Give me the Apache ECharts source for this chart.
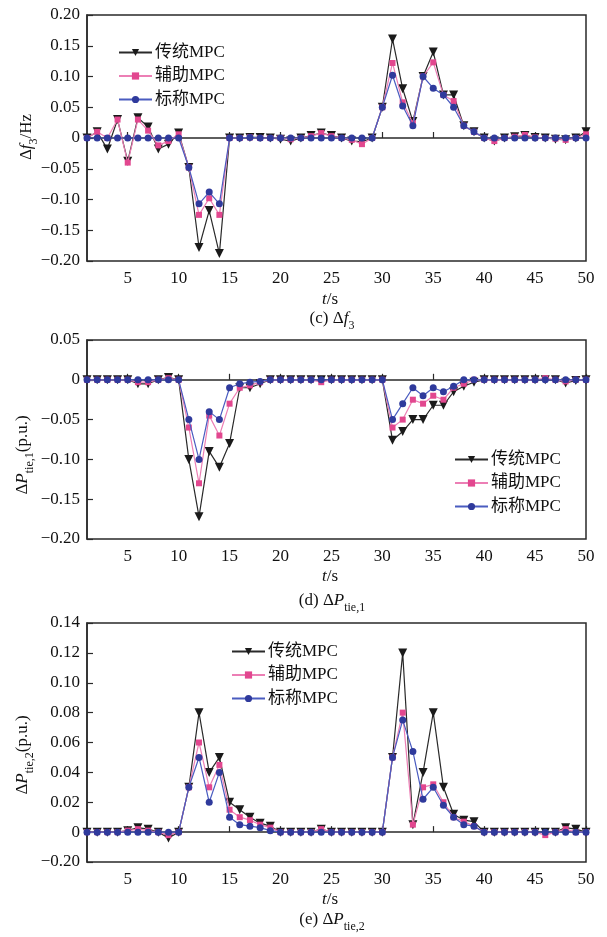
<!DOCTYPE html>
<html>
<head>
<meta charset="utf-8">
<script src="https://cdn.jsdelivr.net/npm/echarts@6/dist/echarts.min.js"></script>
<style>
  html, body { margin: 0; padding: 0; background: #fff; }
  #chart { width: 607px; height: 937px; }
</style>
</head>
<body>
<div id="chart"></div>
<script>
// time axis (s)
const t = [1,2,3,4,5,6,7,8,9,10,11,12,13,14,15,16,17,18,19,20,21,22,23,24,25,26,27,28,29,30,31,32,33,34,35,36,37,38,39,40,41,42,43,44,45,46,47,48,49,50];
const xTicks = [5,10,15,20,25,30,35,40,45,50];

const names = ['传统MPC', '辅助MPC', '标称MPC'];

// (c) Δf3 / Hz
const f3Conv = [0,0.01,-0.018,0.03,-0.038,0.033,0.018,-0.018,-0.01,0.008,-0.048,-0.178,-0.118,-0.188,0,0,0.001,0.001,0,-0.002,-0.005,0,0.004,0.008,0.004,0,-0.005,-0.006,0,0.05,0.161,0.08,0.027,0.1,0.14,0.07,0.07,0.02,0.01,0,-0.005,0,0.002,0.004,0.001,0,-0.002,-0.003,0,0.01];
const f3Aux  = [0,0.01,0,0.03,-0.04,0.03,0.012,-0.012,-0.005,0.006,-0.048,-0.125,-0.098,-0.125,0,0,0.001,0,0,0,-0.002,0,0.003,0.008,0.003,0,-0.003,-0.01,0,0.05,0.122,0.058,0.024,0.1,0.123,0.07,0.06,0.02,0.01,0,-0.005,0,0.002,0.005,0.001,0,-0.001,-0.003,0,0.006];
const f3Nom  = [0,0,0,0,0,0,0,0,0,0,-0.048,-0.107,-0.088,-0.107,0,0,0.001,0,0,0,0,0,0,0,0,0,0,0,0,0.05,0.102,0.052,0.02,0.1,0.081,0.07,0.05,0.02,0.01,0,0,0,0,0,0,0,0,0,0,0];

// (d) ΔPtie,1 / p.u.
const p1Conv = [0,0,0,0,0,-0.005,-0.005,0,0.003,0,-0.1,-0.172,-0.09,-0.11,-0.08,-0.01,-0.01,-0.005,0,0,0,0,0,0,0,0,0,0,0,0,-0.076,-0.065,-0.05,-0.05,-0.032,-0.032,-0.015,-0.008,-0.003,0,0,0,0,0,0,0,0,-0.004,-0.001,0];
const p1Aux  = [0,0,0,0,0,-0.003,-0.003,0,0.002,0,-0.06,-0.13,-0.045,-0.07,-0.03,-0.01,-0.007,-0.003,0,0,0,0,0,-0.003,0,0,0,0,0,0,-0.06,-0.05,-0.025,-0.03,-0.02,-0.025,-0.01,-0.005,0,0,0,0,0,0,0,0.002,0,-0.002,0,0];
const p1Nom  = [0,0,0,0,0,0,0,0,0,0,-0.05,-0.1,-0.04,-0.05,-0.01,-0.005,-0.003,-0.002,0,0,0,0,0,0,0,0,0,0,0,0,-0.05,-0.03,-0.01,-0.02,-0.01,-0.015,-0.008,0,0,0,0,0,0,0,0,0,0,0,0,0];

// (e) ΔPtie,2 / p.u.
const p2Conv = [0,0,0,0,0.001,0.003,0.002,0,-0.004,0,0.03,0.08,0.04,0.05,0.02,0.015,0.01,0.006,0.004,0,0,0,0,0.002,0,0,0,0,0,0,0.05,0.12,0.005,0.04,0.08,0.03,0.012,0.008,0.007,0,0,0,0,0,0,0,0,0.003,0.002,0];
const p2Aux  = [0,0,0,0,0.001,0.002,0.001,0,-0.002,0,0.03,0.06,0.03,0.045,0.015,0.01,0.008,0.005,0.003,0,0,0,0,0.002,0,0,0,0,0,0,0.05,0.08,0.005,0.03,0.032,0.02,0.01,0.007,0.004,0,0,0,0,0,0,-0.002,0,0.002,0,0];
const p2Nom  = [0,0,0,0,0,0,0,0,0,0,0.03,0.05,0.02,0.04,0.01,0.005,0.004,0.003,0.001,0,0,0,0,0,0,0,0,0,0,0,0.05,0.075,0.054,0.022,0.03,0.018,0.01,0.005,0.004,0,0,0,0,0,0,0,0,0,0,0];

// y tick values and their printed labels
const y1Ticks = [-0.2,-0.15,-0.1,-0.05,0,0.05,0.1,0.15,0.2];
const y1Labels = ['\u22120.20','\u22120.15','\u22120.10','\u22120.05','0','0.05','0.10','0.15','0.20'];
const y2Ticks = [-0.2,-0.15,-0.1,-0.05,0,0.05];
const y2Labels = ['\u22120.20','\u22120.15','\u22120.10','\u22120.05','0','0.05'];
const y3Ticks = [-0.02,0,0.02,0.04,0.06,0.08,0.1,0.12,0.14];
const y3Labels = ['\u22120.20','0','0.02','0.04','0.06','0.08','0.10','0.12','0.14'];

const SERIF = '"Liberation Serif", "Times New Roman", serif';
const CJK = '"Liberation Serif", "Noto Sans CJK SC", serif';
const AX = '#2a2a2a';

const styles = [
  { line: '#2a2a2a', mark: '#1a1a1a', symbol: 'triangle', size: 9, rotate: 180 },
  { line: '#ec7fb5', mark: '#e2478f', symbol: 'rect', size: 6, rotate: 0 },
  { line: '#4a5cc0', mark: '#2f3a9c', symbol: 'circle', size: 7, rotate: 0 }
];

const grids = [
  { left: 87, top: 15, width: 499, height: 246 },
  { left: 87, top: 340, width: 499, height: 199 },
  { left: 87, top: 623, width: 499, height: 239 }
];
const yDefs = [
  { min: -0.2, max: 0.2, interval: 0.05, ticks: y1Ticks, labels: y1Labels },
  { min: -0.2, max: 0.05, interval: 0.05, ticks: y2Ticks, labels: y2Labels },
  { min: -0.02, max: 0.14, interval: 0.02, ticks: y3Ticks, labels: y3Labels }
];
const panels = [
  [f3Conv, f3Aux, f3Nom],
  [p1Conv, p1Aux, p1Nom],
  [p2Conv, p2Aux, p2Nom]
];

function labelFor(ticks, labels) {
  return function (v) {
    const i = ticks.findIndex(function (k) { return Math.abs(k - v) < 1e-9; });
    return i >= 0 ? labels[i] : '';
  };
}

const xAxis = grids.map(function (g, i) {
  return {
    type: 'value', gridIndex: i, min: 1, max: 50,
    axisLine: { show: true, lineStyle: { color: AX, width: 1.5 } },
    axisTick: { show: true, inside: true, length: 6, customValues: xTicks, lineStyle: { color: AX, width: 1.2 } },
    axisLabel: { customValues: xTicks, margin: 9, color: '#111', fontFamily: SERIF, fontSize: 17 },
    splitLine: { show: false }
  };
});

const yAxis = yDefs.map(function (d, i) {
  return {
    type: 'value', gridIndex: i, min: d.min, max: d.max, interval: d.interval,
    axisLine: { show: true, lineStyle: { color: AX, width: 1.5 } },
    axisTick: { show: true, inside: true, length: 6, lineStyle: { color: AX, width: 1.2 } },
    axisLabel: { margin: 7, color: '#111', fontFamily: SERIF, fontSize: 17, formatter: labelFor(d.ticks, d.labels) },
    splitLine: { show: false }
  };
});

const series = [];
panels.forEach(function (set, gi) {
  set.forEach(function (vals, si) {
    const s = styles[si];
    series.push({
      name: names[si], type: 'line', xAxisIndex: gi, yAxisIndex: gi,
      data: t.map(function (x, k) { return [x, vals[k]]; }),
      symbol: s.symbol, symbolSize: s.size, symbolRotate: s.rotate,
      showAllSymbol: true, animation: false,
      lineStyle: { color: s.line, width: 1.2 },
      itemStyle: { color: s.mark },
      z: 2 + si
    });
  });
});

const legendPos = [
  { left: 113, top: 39 },
  { left: 449, top: 446 },
  { left: 226, top: 638 }
];
const legend = legendPos.map(function (p) {
  return {
    data: names, orient: 'vertical', left: p.left, top: p.top,
    itemWidth: 33, itemHeight: 9, itemGap: 6.5,
    textStyle: { fontFamily: CJK, fontSize: 17, color: '#111', padding: [0, 0, 0, -2] },
    selectedMode: false
  };
});

const rich = {
  n: { fontFamily: SERIF, fontSize: 17, color: '#111' },
  i: { fontFamily: SERIF, fontSize: 17, fontStyle: 'italic', color: '#111' },
  s: { fontFamily: SERIF, fontSize: 12, color: '#111', verticalAlign: 'bottom', lineHeight: 12, padding: [0, 0, -4, 0] }
};

function txt(text, x, y, rot) {
  return {
    type: 'text', x: x, y: y, rotation: rot || 0,
    style: { text: text, rich: rich, align: 'center', verticalAlign: 'middle', font: '17px ' + SERIF, fill: '#111' }
  };
}

const graphic = [
  txt('{n|Δ}{i|f}{s|3}{n|/Hz}', 27, 137, Math.PI / 2),
  txt('{n|Δ}{i|P}{s|tie,1}{n|(p.u.)}', 23, 455, Math.PI / 2),
  txt('{n|Δ}{i|P}{s|tie,2}{n|(p.u.)}', 23, 755, Math.PI / 2),
  txt('{i|t}{n|/s}', 330, 300),
  txt('{n|(c) Δ}{i|f}{s|3}', 332, 319),
  txt('{i|t}{n|/s}', 330, 577),
  txt('{n|(d) Δ}{i|P}{s|tie,1}', 332, 601),
  txt('{i|t}{n|/s}', 330, 900),
  txt('{n|(e) Δ}{i|P}{s|tie,2}', 332, 920)
];

const chart = echarts.init(document.getElementById('chart'), null, { renderer: 'canvas' });
chart.setOption({
  animation: false,
  backgroundColor: '#fff',
  grid: grids.map(function (g) {
    return Object.assign({ show: true, borderColor: AX, borderWidth: 1.5, backgroundColor: 'transparent', containLabel: false }, g);
  }),
  xAxis: xAxis,
  yAxis: yAxis,
  legend: legend,
  series: series,
  graphic: graphic
});
</script>
</body>
</html>
